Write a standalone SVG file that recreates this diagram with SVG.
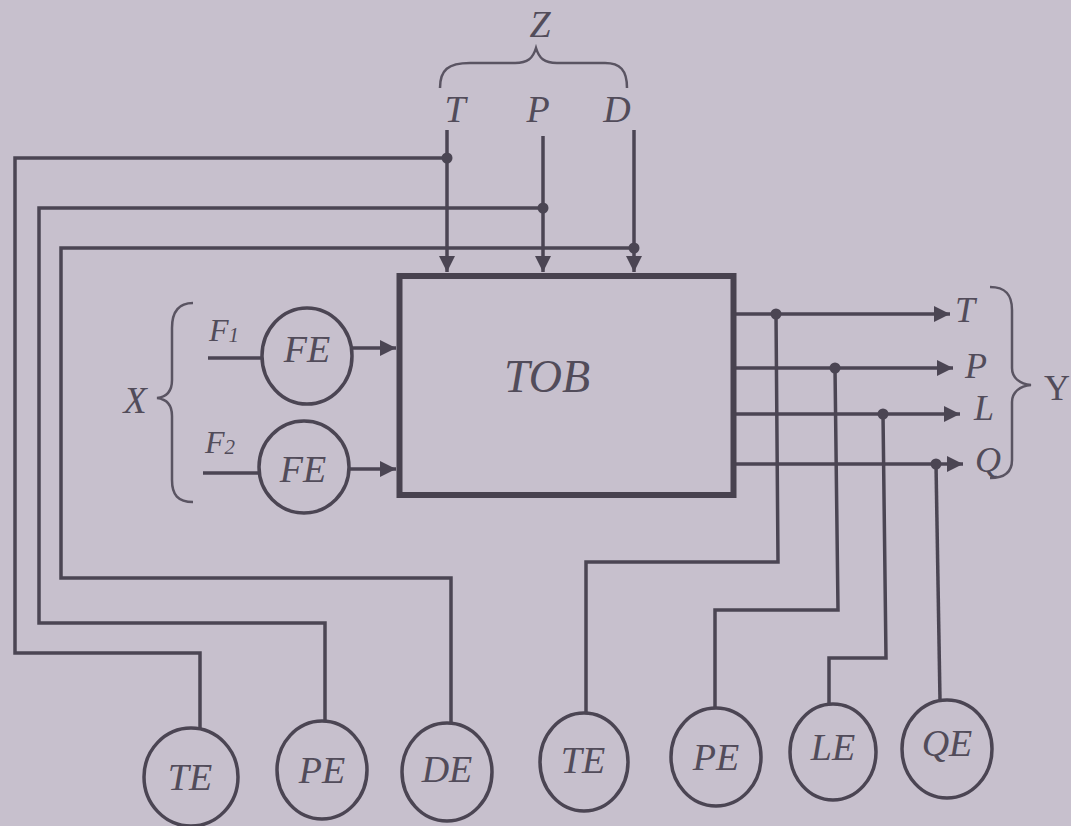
<svg xmlns="http://www.w3.org/2000/svg" width="1071" height="826" viewBox="0 0 1071 826">
<style>
.bg{fill:#c7c0cd}
.w{fill:none;stroke:#4b4553;stroke-width:3.5;stroke-linejoin:miter}
.br{fill:none;stroke:#5a5462;stroke-width:2.5}
.c{fill:#c7c0cd;stroke:#4b4553;stroke-width:3.5}
.box{fill:#c7c0cd;stroke:#48424f;stroke-width:6}
.dot{fill:#4b4553}
.t{font-family:"Liberation Serif",serif;font-style:italic;fill:#524c5a;text-anchor:middle}
.u{font-family:"Liberation Serif",serif;fill:#524c5a;text-anchor:middle}
</style>
<defs>
<marker id="ah" viewBox="0 0 10 10" refX="10" refY="5" markerWidth="20" markerHeight="16" orient="auto" markerUnits="userSpaceOnUse">
<path d="M0,0 L10,5 L0,10 z" fill="#4b4553"/>
</marker>
</defs>
<rect class="bg" x="0" y="0" width="1071" height="826"/>

<g id="braces">
<path class="br" d="M440,88 C440,70 448,63 470,63 L515,63 C528,63 533,58 536,48 C539,58 544,63 557,63 L605,63 C620,63 627,70 627,88"/>
<path class="br" d="M193,303 C178,303 172,312 172,328 L172,380 C172,392 166,397 157,398 C166,399 172,404 172,416 L172,480 C172,495 178,502 193,502"/>
<path class="br" d="M990,287 C1006,287 1012,295 1012,310 L1012,368 C1012,378 1020,384 1031,385 C1020,386 1012,392 1012,402 L1012,460 C1012,472 1004,478 990,478"/>
<text class="t" x="540" y="37" font-size="38">Z</text>
<text class="t" x="135" y="413" font-size="38">X</text>
<text class="u" x="1057" y="400" font-size="36">Y</text>
</g>

<g id="connectors">
<path class="w" d="M447,158 L15,158 L15,653 L200,653 L200,730"/>
<path class="w" d="M543,208 L39,208 L39,623 L325,623 L325,722"/>
<path class="w" d="M634,248 L61,248 L61,578 L451,578 L451,724"/>
<path class="w" d="M776,314 L778,562 L586,562 L586,713"/>
<path class="w" d="M835,368 L838,610 L715,610 L715,708"/>
<path class="w" d="M883,414 L886,658 L829,658 L829,704"/>
<path class="w" d="M936,464 L940,700"/>
<path class="w" d="M447,130 L447,272" marker-end="url(#ah)"/>
<path class="w" d="M543,136 L543,272" marker-end="url(#ah)"/>
<path class="w" d="M634,130 L634,272" marker-end="url(#ah)"/>
<path class="w" d="M736,314 L950,314" marker-end="url(#ah)"/>
<path class="w" d="M736,368 L953,368" marker-end="url(#ah)"/>
<path class="w" d="M736,414 L960,414" marker-end="url(#ah)"/>
<path class="w" d="M736,464 L963,464" marker-end="url(#ah)"/>
<path class="w" d="M208,358 L262,358"/>
<path class="w" d="M203,473 L259,473"/>
<path class="w" d="M352,348 L396,348" marker-end="url(#ah)"/>
<path class="w" d="M349,469 L396,469" marker-end="url(#ah)"/>
<circle class="dot" cx="447" cy="158" r="5.5"/>
<circle class="dot" cx="543" cy="208" r="5.5"/>
<circle class="dot" cx="634" cy="248" r="5.5"/>
<circle class="dot" cx="776" cy="314" r="5.5"/>
<circle class="dot" cx="835" cy="368" r="5.5"/>
<circle class="dot" cx="883" cy="414" r="5.5"/>
<circle class="dot" cx="936" cy="464" r="5.5"/>
</g>

<g id="labels">
<text class="t" x="455" y="122" font-size="38">T</text>
<text class="t" x="538" y="122" font-size="38">P</text>
<text class="t" x="617" y="122" font-size="38">D</text>
<text class="t" x="965" y="322" font-size="36">T</text>
<text class="t" x="976" y="378" font-size="36">P</text>
<text class="t" x="984" y="420" font-size="36">L</text>
<text class="t" x="988" y="472" font-size="36">Q</text>
<text class="t" x="224" y="341" font-size="32">F<tspan font-size="21" dy="1">1</tspan></text>
<text class="t" x="220" y="453" font-size="32">F<tspan font-size="21" dy="1">2</tspan></text>
</g>

<g id="tob">
<rect class="box" x="399.5" y="276" width="334" height="219"/>
<text class="t" x="547" y="392" font-size="46">TOB</text>
</g>

<g id="fe1"><ellipse class="c" cx="307" cy="356" rx="45" ry="48"/><text class="t" x="307" y="362" font-size="38">FE</text></g>
<g id="fe2"><ellipse class="c" cx="304" cy="467" rx="45" ry="46"/><text class="t" x="303" y="482" font-size="38">FE</text></g>

<g id="te1"><ellipse class="c" cx="191" cy="777" rx="47" ry="49"/><text class="t" x="190" y="790" font-size="38">TE</text></g>
<g id="pe1"><ellipse class="c" cx="322" cy="770" rx="45" ry="49"/><text class="t" x="322" y="783" font-size="38">PE</text></g>
<g id="de"><ellipse class="c" cx="447" cy="772" rx="45" ry="49"/><text class="t" x="447" y="782" font-size="38">DE</text></g>
<g id="te2"><ellipse class="c" cx="584" cy="762" rx="44" ry="49"/><text class="t" x="583" y="773" font-size="38">TE</text></g>
<g id="pe2"><ellipse class="c" cx="716" cy="757" rx="45" ry="49"/><text class="t" x="716" y="770" font-size="38">PE</text></g>
<g id="le"><ellipse class="c" cx="833" cy="752" rx="43" ry="48"/><text class="t" x="833" y="760" font-size="38">LE</text></g>
<g id="qe"><ellipse class="c" cx="947" cy="749" rx="45" ry="49"/><text class="t" x="947" y="756" font-size="38">QE</text></g>
</svg>
